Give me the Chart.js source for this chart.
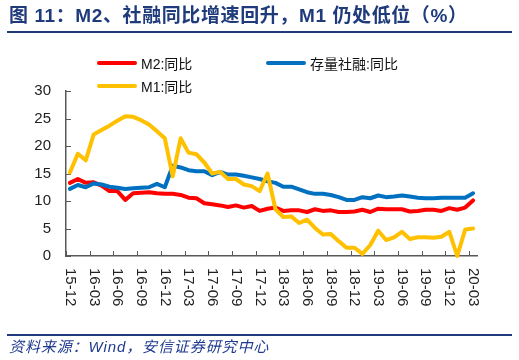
<!DOCTYPE html>
<html>
<head>
<meta charset="utf-8">
<script src="https://cdn.jsdelivr.net/npm/chart.js@4/dist/chart.umd.min.js"></script>
<style>
  html,body{margin:0;padding:0;background:#fff;}
  #wrap{position:relative;width:519px;height:360px;overflow:hidden;font-family:"Liberation Sans",Arial,"Noto Sans CJK SC",sans-serif;}
  #c{position:absolute;left:0;top:0;}
  #title{position:absolute;left:9px;top:4px;font-size:19px;font-weight:bold;color:#1F3B7B;line-height:24px;white-space:nowrap;letter-spacing:0.6px;}
  #topline{position:absolute;left:7px;top:31px;width:505px;height:2px;background:#1F3B7B;}
  #botline{position:absolute;left:7px;top:334px;width:505px;height:2px;background:#1F3B7B;}
  #source{position:absolute;left:9px;top:338px;font-size:15px;font-style:italic;color:#1F3B8F;line-height:18px;white-space:nowrap;letter-spacing:0.9px;}
  .lg{position:absolute;height:20px;display:flex;align-items:center;font-size:14px;color:#111;white-space:nowrap;}
  .lg i{display:inline-block;width:40px;height:4px;border-radius:2px;margin-right:4px;}
</style>
</head>
<body>
<div id="wrap">
  <canvas id="c" width="519" height="360"></canvas>
  <div id="title">图 11：M2、社融同比增速回升，M1 仍处低位（%）</div>
  <div id="topline"></div>
  <div id="legend"></div>
  <div id="botline"></div>
  <div id="source">资料来源：Wind，安信证券研究中心</div>
</div>
<script>
const categories = [
  "15-12",
  "16-01","16-02","16-03","16-04","16-05","16-06","16-07","16-08","16-09","16-10","16-11","16-12",
  "17-01","17-02","17-03","17-04","17-05","17-06","17-07","17-08","17-09","17-10","17-11","17-12",
  "18-01","18-02","18-03","18-04","18-05","18-06","18-07","18-08","18-09","18-10","18-11","18-12",
  "19-01","19-02","19-03","19-04","19-05","19-06","19-07","19-08","19-09","19-10","19-11","19-12",
  "20-01","20-02","20-03"
];
const m2Yoy = [
  13.3,
  14.0,13.3,13.4,12.8,11.8,11.8,10.2,11.4,11.5,11.6,11.4,11.3,
  11.3,11.1,10.6,10.5,9.6,9.4,9.2,8.9,9.2,8.8,9.1,8.2,
  8.6,8.8,8.2,8.3,8.3,8.0,8.5,8.2,8.3,8.0,8.0,8.1,
  8.4,8.0,8.6,8.5,8.5,8.5,8.1,8.2,8.4,8.4,8.2,8.7,
  8.4,8.8,10.1
];
const tsfYoy = [
  12.2,
  12.9,12.5,13.2,13.0,12.6,12.4,12.2,12.3,12.4,12.5,13.1,12.5,
  16.4,16.1,15.6,15.4,15.4,14.7,15.3,14.8,14.8,14.6,14.3,14.0,
  13.6,13.3,12.6,12.6,12.1,11.6,11.3,11.3,11.1,10.7,10.2,10.2,
  10.7,10.5,11.0,10.7,10.8,11.0,10.8,10.6,10.5,10.5,10.6,10.6,
  10.6,10.6,11.4
];
const m1Yoy = [
  15.2,
  18.6,17.4,22.1,22.9,23.7,24.6,25.4,25.3,24.7,23.9,22.7,21.4,
  14.5,21.4,18.8,18.5,17.0,15.0,15.3,14.0,14.0,13.0,12.7,11.8,
  15.0,8.5,7.1,7.2,6.0,6.6,5.1,3.9,4.0,2.7,1.5,1.5,
  0.4,2.0,4.6,2.9,3.4,4.4,3.1,3.4,3.4,3.3,3.5,4.4,
  0.0,4.8,5.0
];
const seriesNames = ["M2:同比","存量社融:同比","M1:同比"];
const seriesColors = ["#FF0000","#0070C0","#FFC000"];
const yTicks = [0,5,10,15,20,25,30];
const labelStep = 3;

const AXIS_COLOR = "#595959";
const FONT = '"Liberation Sans", Arial, "Noto Sans CJK SC", sans-serif';

const axisDeco = {
  id: 'axisDeco',
  beforeDatasetsDraw(chart) {
    const {ctx, chartArea: a, scales: {x, y}} = chart;
    const half = (x.getPixelForValue(1) - x.getPixelForValue(0)) / 2;
    ctx.save();
    ctx.strokeStyle = AXIS_COLOR;
    ctx.lineWidth = 1;
    for (let i = 0; i < categories.length; i += labelStep) {
      const px = Math.round(x.getPixelForValue(i) - half) + 0.5;
      ctx.beginPath(); ctx.moveTo(px, a.bottom); ctx.lineTo(px, a.bottom - 5); ctx.stroke();
    }
    y.ticks.forEach(t => {
      const py = Math.round(y.getPixelForValue(t.value)) + 0.5;
      ctx.beginPath(); ctx.moveTo(a.left, py); ctx.lineTo(a.left + 5, py); ctx.stroke();
    });
    ctx.restore();
  },
  afterDraw(chart) {
    const {ctx, chartArea: a, scales: {x}} = chart;
    ctx.save();
    ctx.fillStyle = "#222";
    ctx.font = "15px " + FONT;
    ctx.textAlign = "left";
    ctx.textBaseline = "middle";
    for (let i = 0; i < categories.length; i += labelStep) {
      const px = x.getPixelForValue(i);
      ctx.save();
      ctx.translate(px, a.bottom + 12);
      ctx.rotate(Math.PI / 2);
      ctx.fillText(categories[i], 0, 0);
      ctx.restore();
    }
    ctx.restore();
  }
};

const datasets = [m2Yoy, tsfYoy, m1Yoy].map((d, k) => ({
  label: seriesNames[k],
  data: d,
  borderColor: seriesColors[k],
  backgroundColor: seriesColors[k],
  borderWidth: 4,
  pointRadius: 0,
  tension: 0,
  fill: false,
  clip: 6,
  order: 3 - k,
  borderJoinStyle: 'round',
  borderCapStyle: 'round'
}));

new Chart(document.getElementById('c'), {
  type: 'line',
  data: { labels: categories, datasets },
  options: {
    responsive: false,
    animation: false,
    events: [],
    layout: { padding: { left: 0, top: 91, right: 42, bottom: 54 } },
    plugins: { legend: { display: false }, tooltip: { enabled: false } },
    scales: {
      x: {
        type: 'category',
        offset: true,
        grid: { offset: true, drawOnChartArea: false, drawTicks: false },
        border: { display: true, color: AXIS_COLOR, width: 1.5 },
        ticks: { display: false },
        afterFit(s) { s.height = 50; }
      },
      y: {
        min: 0, max: 30,
        afterBuildTicks(s) { s.ticks = yTicks.map(v => ({ value: v })); },
        grid: { drawOnChartArea: false, drawTicks: false },
        border: { display: true, color: AXIS_COLOR, width: 1.5 },
        ticks: { padding: 15, color: "#222", font: { size: 15, family: FONT } },
        afterFit(s) { s.width = 66; }
      }
    }
  },
  plugins: [axisDeco]
});

// HTML legend built from series arrays
const legendPos = [[97, 53], [266, 53], [97, 76]];
const lg = document.getElementById('legend');
seriesNames.forEach((n, k) => {
  const d = document.createElement('div');
  d.className = 'lg';
  d.style.left = legendPos[k][0] + 'px';
  d.style.top = legendPos[k][1] + 'px';
  d.innerHTML = '<i style="background:' + seriesColors[k] + '"></i>' + n;
  lg.appendChild(d);
});
</script>
</body>
</html>
